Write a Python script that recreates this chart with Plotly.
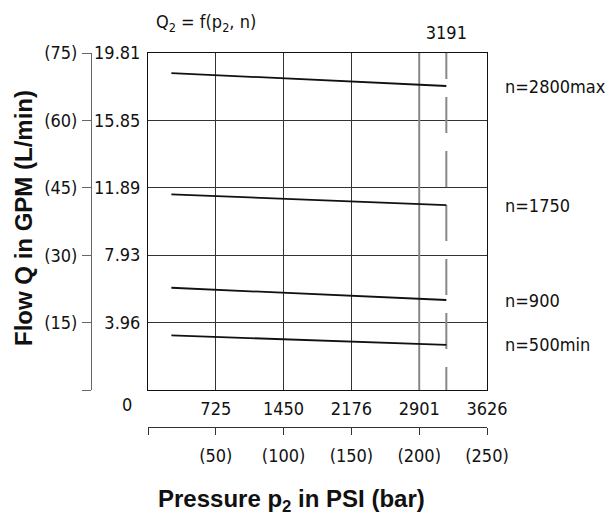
import plotly.graph_objects as go

# Pressure axis (PSI) with bar equivalents
psi_ticks = [725, 1450, 2176, 2901, 3626]
psi_max = 3626
bar_ticks = [0, 50, 100, 150, 200, 250]
bar_labels = ["", "(50)", "(100)", "(150)", "(200)", "(250)"]
p_limit = 3191

# Flow axis (GPM) with L/min equivalents
gpm_ticks = [3.96, 7.93, 11.89, 15.85, 19.81]
gpm_max = 19.81
lpm_ticks = [0, 15, 30, 45, 60, 75]
lpm_labels = ["", "(15)", "(30)", "(45)", "(60)", "(75)"]

# Flow curves Q2 = f(p2, n)
speed_labels = ["n=2800max", "n=1750", "n=900", "n=500min"]
p_start = 250
p_end = 3191
q_start = [18.63, 11.50, 6.01, 3.21]
q_end = [17.87, 10.87, 5.29, 2.65]

FONT = "DejaVu Sans Condensed"
BOLD = "Liberation Sans"
ink = "#111111"

fig = go.Figure()

# highlighted grid line at the last interior pressure tick
fig.add_trace(go.Scatter(
    x=[psi_ticks[3], psi_ticks[3]], y=[0, gpm_max], mode="lines",
    line=dict(color="#888888", width=2), hoverinfo="skip", showlegend=False))

# pressure limit
fig.add_trace(go.Scatter(
    x=[p_limit, p_limit], y=[gpm_max, 0], mode="lines",
    line=dict(color="#888888", width=2,
              dash="26px,18px,36px,18px,36px,18px,36px,18px,36px,18px,36px,18px,36px"),
    hoverinfo="skip", showlegend=False))

for lbl, qs, qe in zip(speed_labels, q_start, q_end):
    fig.add_trace(go.Scatter(
        x=[p_start, p_end], y=[qs, qe], mode="lines",
        line=dict(color=ink, width=1.8), name=lbl, showlegend=False))
    fig.add_annotation(text=lbl, xref="paper", yref="y", x=1.0404, y=qe,
                       xanchor="left", yanchor="middle", showarrow=False,
                       font=dict(family=FONT, size=18, color=ink))

axis_font = dict(family=FONT, size=18, color=ink)

fig.update_layout(
    width=616, height=516,
    margin=dict(l=91, r=129, t=53, b=89),
    paper_bgcolor="white", plot_bgcolor="white",
    xaxis=dict(domain=[57 / 396, 1], range=[0, psi_max],
               tickvals=psi_ticks, ticktext=[str(v) for v in psi_ticks],
               showgrid=True, gridcolor="#333333", gridwidth=1,
               showline=True, linecolor=ink, linewidth=1, mirror=True,
               ticks="", zeroline=False, tickfont=axis_font,
               ticklabelstandoff=2),
    xaxis2=dict(overlaying="x", side="top", range=[0, psi_max],
                tickvals=[p_limit], ticktext=[str(p_limit)],
                showgrid=False, showline=False, ticks="", zeroline=False,
                tickfont=axis_font, ticklabelstandoff=9),
    xaxis3=dict(overlaying="x", anchor="free", position=0, side="bottom",
                range=[0, bar_ticks[-1]], tickvals=bar_ticks, ticktext=bar_labels,
                showgrid=False, showline=True, linecolor="#333333", linewidth=1,
                ticks="outside", ticklen=7, tickcolor="#333333", zeroline=False,
                tickfont=axis_font, ticklabelstandoff=5),
    yaxis=dict(domain=[37 / 374, 1], range=[0, gpm_max],
               tickvals=gpm_ticks, ticktext=[f"{v:.2f}" for v in gpm_ticks],
               showgrid=True, gridcolor="#333333", gridwidth=1,
               showline=True, linecolor=ink, linewidth=1, mirror=True,
               ticks="", zeroline=False, tickfont=axis_font,
               ticklabelstandoff=3),
    yaxis2=dict(overlaying="y", anchor="free", position=0, side="left",
                range=[0, lpm_ticks[-1]], tickvals=lpm_ticks, ticktext=lpm_labels,
                showgrid=False, showline=True, linecolor="#666666", linewidth=1,
                ticks="outside", ticklen=9, tickcolor="#666666", zeroline=False,
                tickfont=axis_font, ticklabelstandoff=1),
)

# empty traces so the secondary axes are drawn
fig.add_trace(go.Scatter(x=[None], y=[None], xaxis="x2", showlegend=False, hoverinfo="skip"))
fig.add_trace(go.Scatter(x=[None], y=[None], xaxis="x3", showlegend=False, hoverinfo="skip"))
fig.add_trace(go.Scatter(x=[None], y=[None], yaxis="y2", showlegend=False, hoverinfo="skip"))

fig.add_annotation(text="Q<sub>2</sub> = f(p<sub>2</sub>, n)", xref="paper", yref="paper",
                   x=(154 - 91) / 396, y=(427 - 23) / 374, xanchor="left", yanchor="middle",
                   showarrow=False, font=dict(family=FONT, size=18, color=ink))
fig.add_annotation(text="0", xref="paper", yref="paper",
                   x=(127 - 91) / 396, y=(427 - 404) / 374, xanchor="center", yanchor="middle",
                   showarrow=False, font=dict(family=FONT, size=18, color=ink))
fig.add_annotation(text="<b>Flow Q in GPM (L/min)</b>", xref="paper", yref="paper",
                   x=(23 - 91) / 396, y=(427 - 218) / 374, xanchor="center", yanchor="middle",
                   textangle=-90, showarrow=False,
                   font=dict(family=BOLD, size=24, color=ink))
fig.add_annotation(text="<b>Pressure p<sub>2</sub> in PSI (bar)</b>", xref="paper", yref="paper",
                   x=(291 - 91) / 396, y=(427 - 500) / 374, xanchor="center", yanchor="middle",
                   showarrow=False, font=dict(family=BOLD, size=24, color=ink))

fig.write_html("out.html")
